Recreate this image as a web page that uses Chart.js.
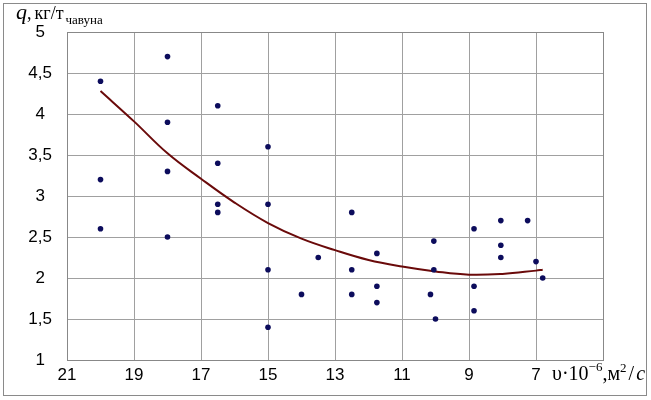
<!DOCTYPE html>
<html><head><meta charset="utf-8">
<script src="https://cdn.jsdelivr.net/npm/chart.js@4/dist/chart.umd.min.js"></script>
<style>
html,body{margin:0;padding:0;background:#fff;}
#wrap{position:relative;width:651px;height:400px;}
#frame{position:absolute;left:3px;top:3px;width:642px;height:391px;border:1px solid #8a8a8a;box-sizing:content-box;pointer-events:none;}
canvas{position:absolute;left:0;top:0;}
.t{position:absolute;font-family:"Liberation Serif","Times New Roman",serif;color:#000;white-space:nowrap;line-height:1;}
</style></head>
<body>
<div id="wrap">
<canvas id="c" width="651" height="400"></canvas>
<div id="frame"></div>
<div class="t" style="left:16px;top:1px;font-size:18px;"><i style="font-size:22px;">q</i>,<span style="margin-left:3px;">кг/т</span><span style="font-size:13px;position:relative;top:5px;margin-left:2px;">чавуна</span></div>
<div class="t" style="left:552px;top:361px;font-size:20px;">υ·10<sup style="font-size:13px;position:relative;top:-1px;">−6</sup>,м<sup style="font-size:13px;">2</sup><span style="margin:0 2px;">/</span><i>c</i></div>
</div>
<script>
const pointX = [20,20,20, 18,18,18,18, 16.5,16.5,16.5,16.5, 15,15,15,15, 14,13.5, 12.5,12.5,12.5, 11.75,11.75,11.75, 10.15,10.05,10.05,10, 8.85,8.85,8.85, 8.05,8.05,8.05, 7.25,7.0,6.8];
const pointY = [4.4,3.2,2.6, 4.7,3.9,3.3,2.5, 4.1,3.4,2.9,2.8, 3.6,2.9,2.1,1.4, 1.8,2.25, 2.8,2.1,1.8, 2.3,1.9,1.7, 1.8,2.45,2.1,1.5, 2.6,1.9,1.6, 2.7,2.4,2.25, 2.7,2.2,2.0];
const trendX = [20,19,18,17,16,15,14,13,12,11,10,9,8,7,6.8];
const trendY = [4.28,3.91,3.52,3.21,2.92,2.67,2.48,2.34,2.22,2.14,2.08,2.04,2.05,2.09,2.10];
const xTicks = [21,19,17,15,13,11,9,7];
const yTicks = [1,1.5,2,2.5,3,3.5,4,4.5,5];

const pts = pointX.map((x,i)=>({x:x,y:pointY[i]}));
const trend = trendX.map((x,i)=>({x:x,y:trendY[i]}));

new Chart(document.getElementById('c'), {
  type:'scatter',
  data:{datasets:[
    {data:trend, showLine:true, borderColor:'#6a0a0a', borderWidth:2, pointRadius:0, tension:0.4, fill:false, order:2},
    {data:pts, backgroundColor:'#0c0c5c', borderColor:'#0c0c5c', pointRadius:2.8, borderWidth:0, order:1}
  ]},
  options:{
    responsive:false, animation:false, devicePixelRatio:1,
    layout:{padding:{left:0,top:32,right:48,bottom:0}},
    plugins:{legend:{display:false},tooltip:{enabled:false}},
    scales:{
      x:{type:'linear', reverse:true, min:5, max:21,
        afterBuildTicks:(s)=>{s.ticks = [5].concat(xTicks.slice().reverse()).map(v=>({value:v}));},
        afterFit:(s)=>{s.height=40;},
        grid:{color:'#a0a0a0', lineWidth:1, drawTicks:false},
        border:{display:true,color:'#888888',width:1},
        ticks:{padding:5, maxRotation:0, autoSkip:false, color:'#000', font:{family:'"Liberation Sans", Arial, sans-serif', size:17},
          callback:(v)=> xTicks.includes(v) ? String(v) : ''}
      },
      y:{type:'linear', min:1, max:5,
        afterBuildTicks:(s)=>{s.ticks = yTicks.map(v=>({value:v}));},
        afterFit:(s)=>{s.width=67;},
        grid:{color:'#a0a0a0', lineWidth:1, drawTicks:false},
        border:{display:true,color:'#888888',width:1},
        ticks:{padding:15, crossAlign:'center', color:'#000', font:{family:'"Liberation Sans", Arial, sans-serif', size:17},
          callback:(v)=> String(v).replace('.',',')}
      }
    }
  },
  plugins:[{id:'rightTopBorder', afterDraw(chart){
    const a=chart.chartArea, ctx=chart.ctx;
    ctx.save(); ctx.strokeStyle='#888888'; ctx.lineWidth=1;
    ctx.strokeRect(Math.round(a.left)+0.5, Math.round(a.top)+0.5, Math.round(a.right-a.left), Math.round(a.bottom-a.top));
    ctx.restore();
  }}]
});
</script>
</body></html>
